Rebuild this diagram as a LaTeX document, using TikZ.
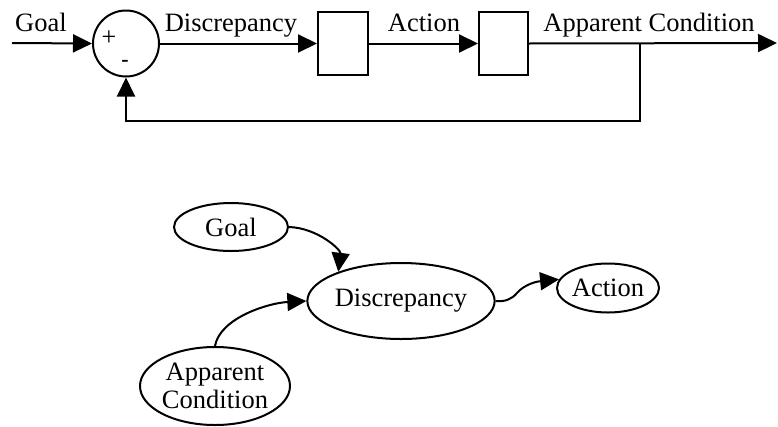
\documentclass[tikz,border=0pt]{standalone}
\usepackage{fontspec}
\setmainfont{Liberation Serif}
\usetikzlibrary{arrows.meta,shapes.geometric}

\tikzset{
  wire/.style={line width=2pt},
  flow/.style={wire, -{Triangle[length=19pt,width=18pt]}},
  blockbox/.style={draw, line width=2pt, minimum width=50pt, minimum height=63pt, inner sep=0pt},
  sumnode/.style={draw, circle, line width=2pt, minimum size=66pt, inner sep=0pt},
  bubble/.style={draw, ellipse, line width=2pt, inner sep=0pt, align=center,
                 font=\fontsize{26.5}{28}\selectfont},
  lbl/.style={anchor=base, inner sep=0pt, font=\fontsize{26.5}{28}\selectfont},
  sign/.style={inner sep=0pt, font=\fontsize{26}{26}\selectfont},
}

\begin{document}
\begin{tikzpicture}[x=1pt, y=-1pt]
\useasboundingbox (0,0) rectangle (778,426);

% ---- feedback loop block diagram ----
\coordinate (in) at (12,43);
\node[sumnode] (sum) at (126,43.5) {};
\node[sign] (plus) at (109,38) {+};
\node[sign, font=\fontsize{22}{22}\selectfont\bfseries] (minus) at (125,63) {-};
\node[blockbox] (b1) at (343,43.5) {};
\node[blockbox, minimum width=49pt] (b2) at (503.5,43.5) {};
\coordinate (fb) at (640,43);
\coordinate (fbcorner) at (640,121);
\coordinate (out) at (777,43);

\node[lbl] (lgoal) at (41,31) {Goal};
\node[lbl] (ldisc) at (231,31) {Discrepancy};
\node[lbl] (lact) at (424,31) {Action};
\node[lbl] (lapp) at (649,31) {Apparent Condition};

\draw[flow] (in) -- (sum.west);
\draw[flow] (sum.east) -- (b1.west);
\draw[flow] (b1.east) -- (b2.west);
\draw[flow] (b2.east) -- (out);
\draw[flow] (fb) -- (fbcorner) -| (sum.south);

% ---- influence graph ----
\node[bubble, minimum width=114pt, minimum height=48pt] (goal) at (231,227) {Goal};
\node[bubble, minimum width=162pt, minimum height=76pt] (disc) at (401,301) {Discrepancy};
\node[bubble, minimum width=100pt, minimum height=49pt] (act) at (608,288) {Action};
\node[bubble, minimum width=150pt, minimum height=78pt] (app) at (215,386) {Apparent\\Condition};

\draw[flow] (goal.east) .. controls (318,228) and (341,250) .. (disc.155);
\draw[flow] (app.north) .. controls (220,318) and (268,303) .. (disc.west);
\draw[flow] (disc.east) .. controls (505,302) and (512,299) .. (517,293)
                        .. controls (522,287) and (532,282) .. (act.170);
\end{tikzpicture}
\end{document}
